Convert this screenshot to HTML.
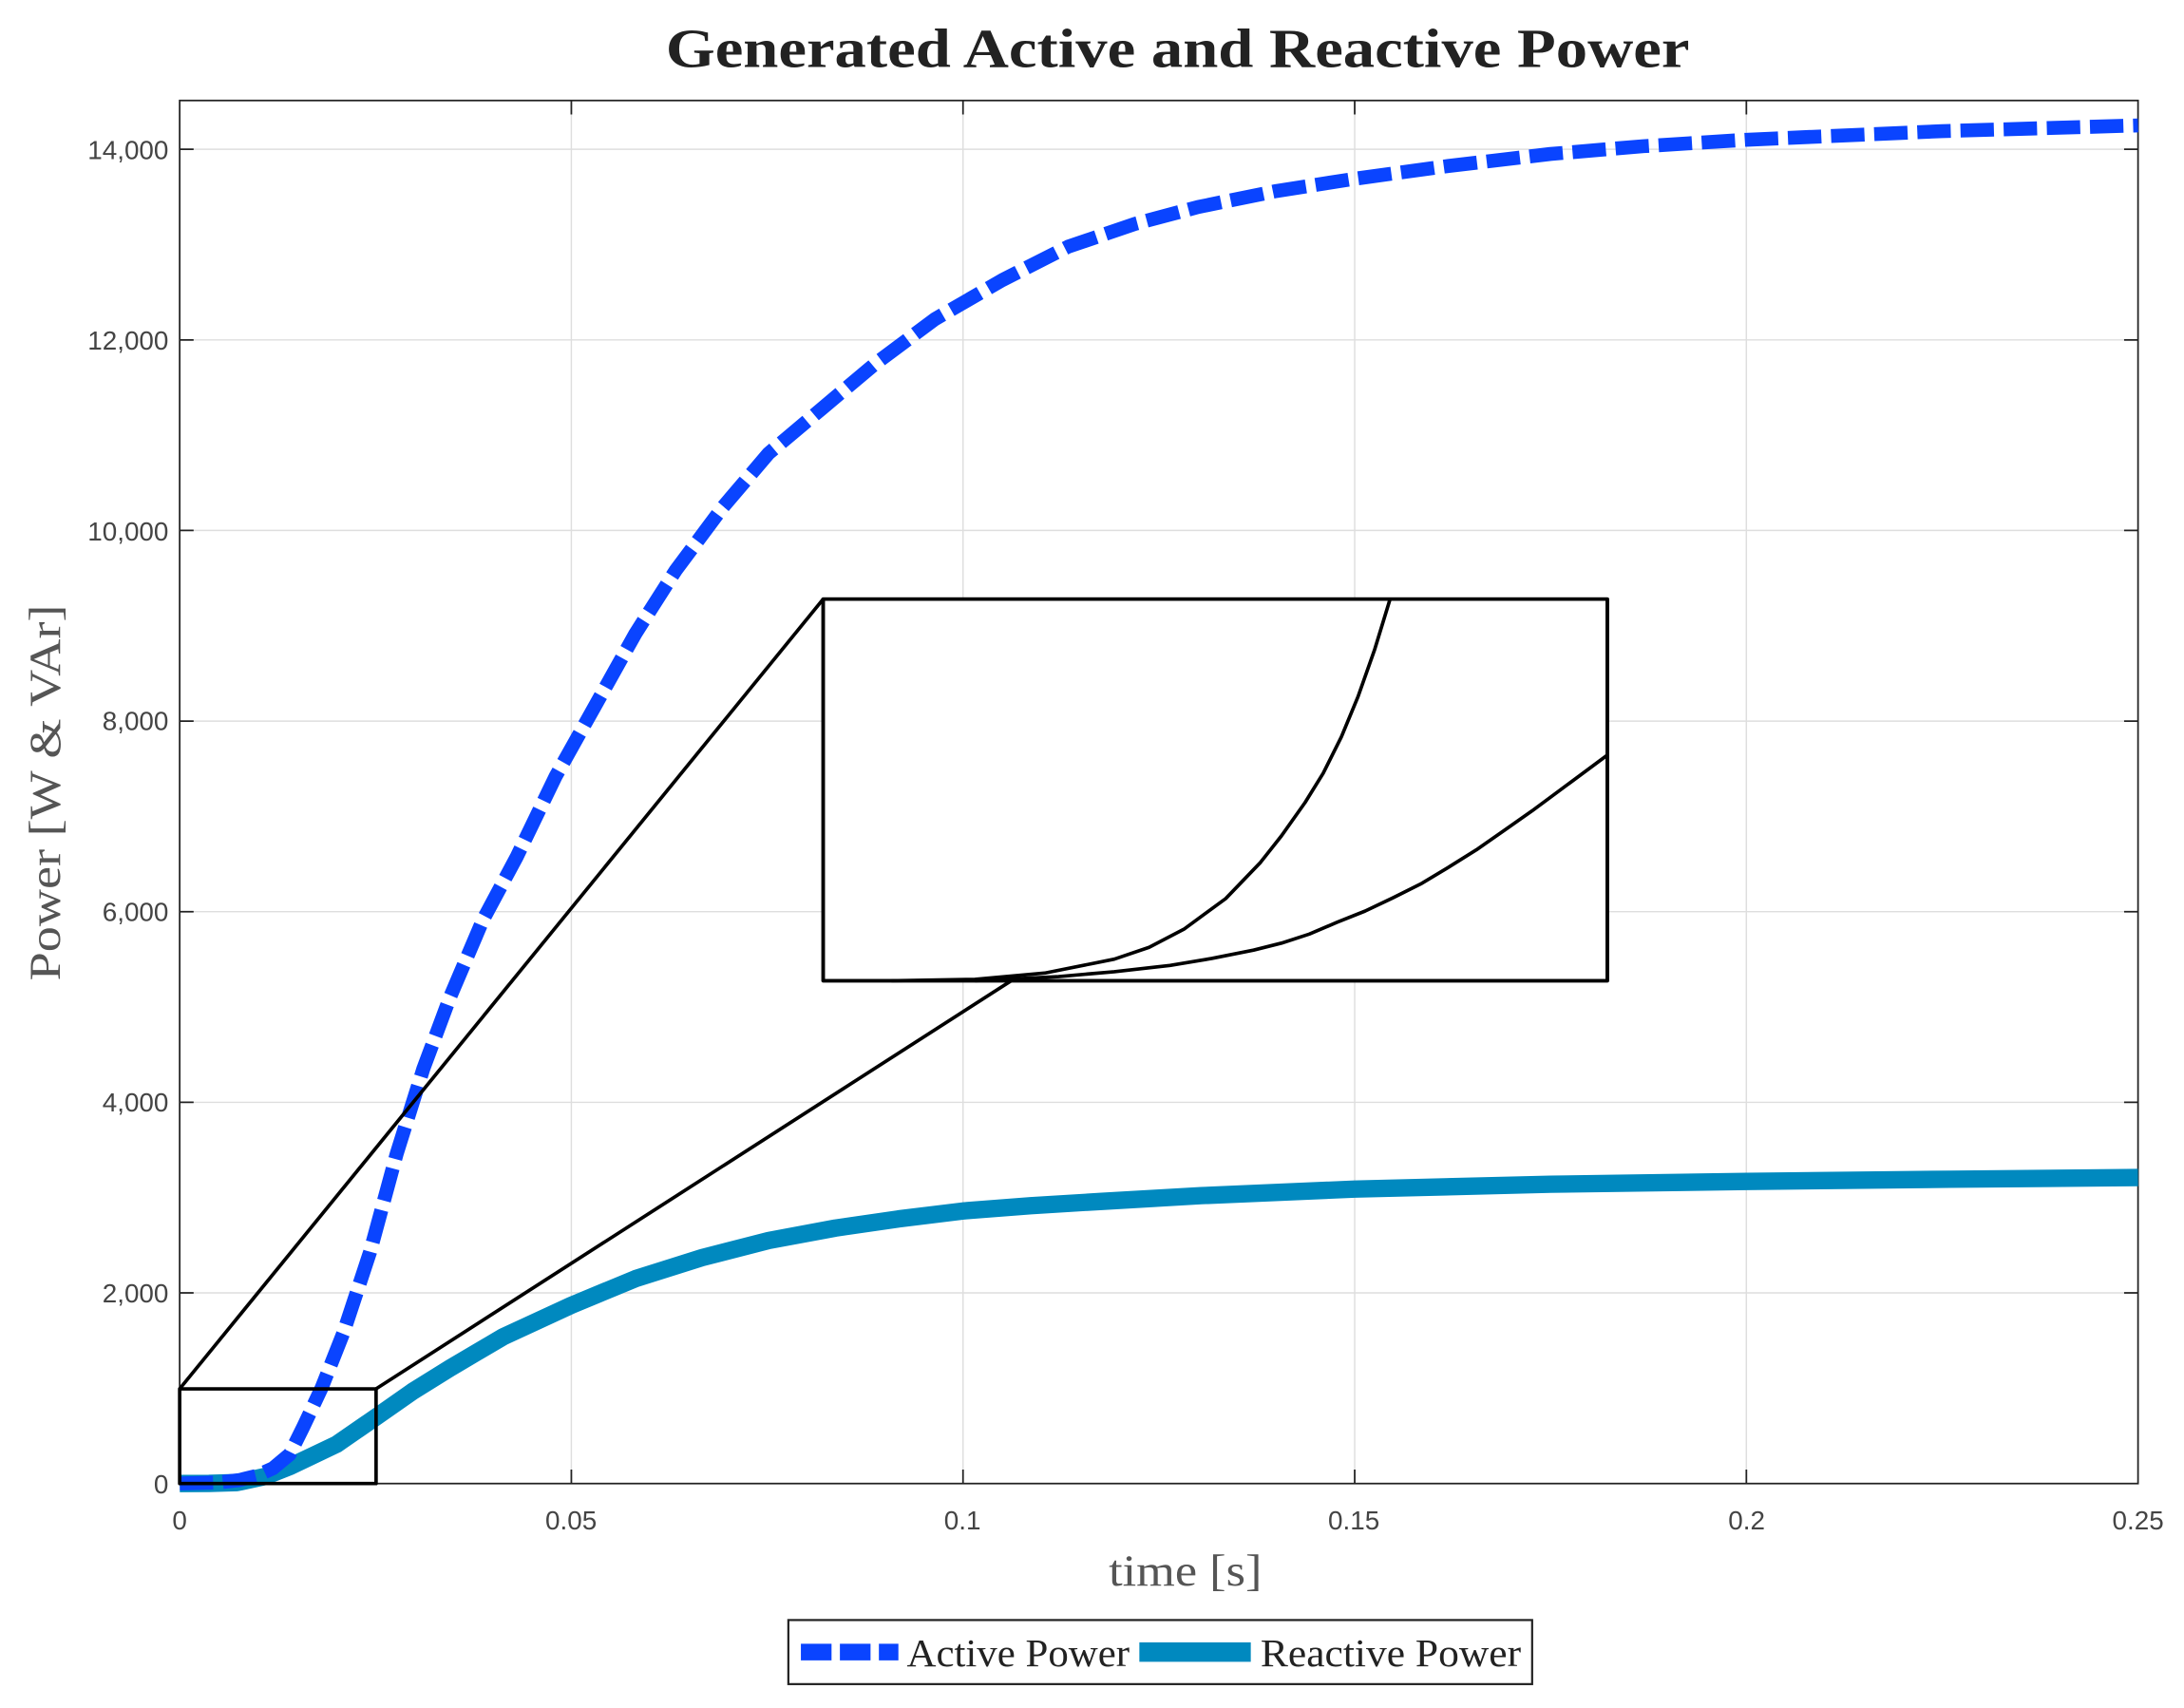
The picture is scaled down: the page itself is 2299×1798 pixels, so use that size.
<!DOCTYPE html>
<html><head><meta charset="utf-8"><style>html,body{margin:0;padding:0;background:#fff}svg{display:block}</style></head>
<body>
<svg width="2299" height="1798" viewBox="0 0 1568 1226" xmlns="http://www.w3.org/2000/svg">
<defs><clipPath id="cp"><rect x="129" y="60" width="1420" height="1020"/></clipPath></defs>
<rect width="1568" height="1226" fill="#fff"/>
<text x="845.5" y="48" text-anchor="middle" font-family="Liberation Serif, serif" font-weight="bold" font-size="40" fill="#222" textLength="735" lengthAdjust="spacingAndGlyphs">Generated Active and Reactive Power</text>
<g stroke="#dedede" stroke-width="1">
<line x1="129" y1="928.1" x2="1535" y2="928.1"/><line x1="129" y1="791.3" x2="1535" y2="791.3"/>
<line x1="129" y1="654.4" x2="1535" y2="654.4"/><line x1="129" y1="517.6" x2="1535" y2="517.6"/>
<line x1="129" y1="380.7" x2="1535" y2="380.7"/><line x1="129" y1="243.9" x2="1535" y2="243.9"/>
<line x1="129" y1="107" x2="1535" y2="107"/>
<line x1="410.2" y1="72" x2="410.2" y2="1065"/><line x1="691.4" y1="72" x2="691.4" y2="1065"/>
<line x1="972.6" y1="72" x2="972.6" y2="1065"/><line x1="1253.8" y1="72" x2="1253.8" y2="1065"/>
</g>
<g stroke="#222" stroke-width="1.2">
<path d="M129 928.1h10M129 791.3h10M129 654.4h10M129 517.6h10M129 380.7h10M129 243.9h10M129 107h10"/>
<path d="M1535 928.1h-10M1535 791.3h-10M1535 654.4h-10M1535 517.6h-10M1535 380.7h-10M1535 243.9h-10M1535 107h-10"/>
<path d="M410.2 1065v-10M691.4 1065v-10M972.6 1065v-10M1253.8 1065v-10M410.2 72v10M691.4 72v10M972.6 72v10M1253.8 72v10"/>
<rect x="129" y="72" width="1406" height="993" fill="none"/>
</g>
<g font-family="Liberation Sans, sans-serif" font-size="19" fill="#444" text-anchor="end">
<text x="121" y="1072">0</text><text x="121" y="935">2,000</text><text x="121" y="798">4,000</text>
<text x="121" y="661">6,000</text><text x="121" y="524">8,000</text><text x="121" y="388">10,000</text>
<text x="121" y="251">12,000</text><text x="121" y="114">14,000</text>
</g>
<g font-family="Liberation Sans, sans-serif" font-size="19" fill="#444" text-anchor="middle">
<text x="129" y="1098">0</text><text x="410" y="1098">0.05</text><text x="691" y="1098">0.1</text>
<text x="972" y="1098">0.15</text><text x="1254" y="1098">0.2</text><text x="1535" y="1098">0.25</text>
</g>
<text x="851" y="1138" text-anchor="middle" font-family="Liberation Serif, serif" font-size="32" fill="#555" textLength="110" lengthAdjust="spacingAndGlyphs">time [s]</text>
<text transform="translate(43,569) rotate(-90)" text-anchor="middle" font-family="Liberation Serif, serif" font-size="32" fill="#555" textLength="270" lengthAdjust="spacingAndGlyphs">Power [W &amp; VAr]</text>

<polyline clip-path="url(#cp)" fill="none" stroke="#0089bf" stroke-width="12.5" stroke-linejoin="round" points="129,1065 150,1064.9 170.1,1064.3 190,1060 208.3,1052.7 241.5,1036.9 270.2,1017.1 296,999 323,982.2 361.3,959.6 410.2,937 456.3,917.9 504.1,902.8 551.9,890.5 599.7,881.6 645,875 691.4,869.3 740,865.5 791,862.4 862.4,858.3 972.6,853.6 1113.2,850.1 1253.8,848.1 1400,846.5 1535,845.3"/>
<polyline clip-path="url(#cp)" fill="none" stroke="#0a44ff" stroke-width="10" stroke-dasharray="24,7" stroke-linejoin="round" points="129,1065 157.1,1064.2 172,1062.5 184.1,1059.5 196,1054 208,1044 217.9,1024 230.8,996.6 246.5,956.9 265.7,898.7 284.8,828.2 303.9,767.3 323,716 346.6,660.6 370.8,615.4 398.9,557.3 427.6,506 456.3,454.6 485,409.5 518.7,364.3 551.9,325.3 590.2,293.1 628.4,261 671.2,229 719.5,201 766.8,177 815.1,160.5 860.1,148.5 916.4,137 972.6,128.2 1040,119 1113.2,110.4 1180,104.8 1253.8,100.2 1394.4,94 1535,89.9"/>

<g stroke="#000" stroke-width="2.5" fill="none" stroke-linejoin="round">
<line x1="129" y1="997" x2="591" y2="430"/>
<line x1="270" y1="997" x2="726" y2="704"/>
<rect x="129" y="997" width="141" height="68"/>
<rect x="591" y="430" width="563" height="274" fill="#fff"/>
<polyline points="640,704 700,703 750,698.5 800,688.5 825,680 850,667 880,645 905,619 920,600 937,576 950,555 963,529 975,500 987,466 998,430"/>
<polyline points="700,704 760,701 800,697.5 840,693 870,688 900,682 920,677 940,670.5 960,662 980,654 1000,644.5 1020,634.5 1040,622.5 1060,610 1080,596 1100,582 1127,562 1154,542"/>
<rect x="591" y="430" width="563" height="274"/>
</g>

<rect x="566" y="1163" width="534" height="46" fill="#fff" stroke="#222" stroke-width="1.5"/>
<line x1="575" y1="1186" x2="645" y2="1186" stroke="#0a44ff" stroke-width="12" stroke-dasharray="22,6"/>
<line x1="818" y1="1186" x2="898" y2="1186" stroke="#0089bf" stroke-width="14"/>
<g font-family="Liberation Serif, serif" font-size="28" fill="#222">
<text x="651" y="1196" textLength="160" lengthAdjust="spacingAndGlyphs">Active Power</text>
<text x="905" y="1196" textLength="187" lengthAdjust="spacingAndGlyphs">Reactive Power</text>
</g>
</svg>
</body></html>
